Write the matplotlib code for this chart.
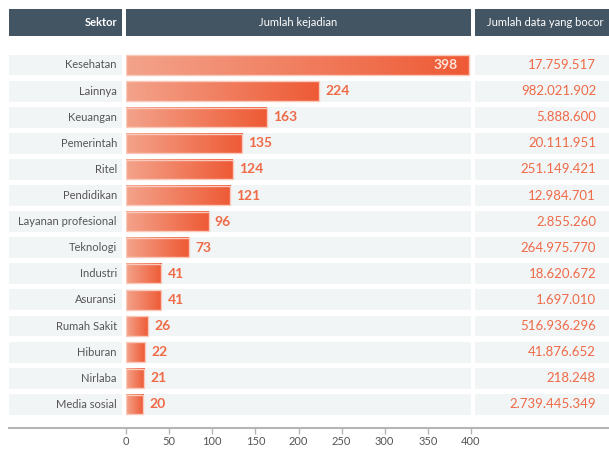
import numpy as np
import matplotlib
matplotlib.use("Agg")
import matplotlib.pyplot as plt
from matplotlib.colors import LinearSegmentedColormap
from matplotlib.patches import Rectangle
from matplotlib.lines import Line2D
import matplotlib.transforms as mtransforms

plt.rcParams['font.family'] = ['Lato', 'DejaVu Sans']

sectors = ["Kesehatan", "Lainnya", "Keuangan", "Pemerintah", "Ritel", "Pendidikan",
           "Layanan profesional", "Teknologi", "Industri", "Asuransi", "Rumah Sakit",
           "Hiburan", "Nirlaba", "Media sosial"]
incidents = [398, 224, 163, 135, 124, 121, 96, 73, 41, 41, 26, 22, 21, 20]
leaked = ["17.759.517", "982.021.902", "5.888.600", "20.111.951", "251.149.421",
          "12.984.701", "2.855.260", "264.975.770", "18.620.672", "1.697.010",
          "516.936.296", "41.876.652", "218.248", "2.739.445.349"]
headers = ["Sektor", "Jumlah kejadian", "Jumlah data yang bocor"]
xticks = [0, 50, 100, 150, 200, 250, 300, 350, 400]

W, H = 609, 449
fig = plt.figure(figsize=(W / 100, H / 100), dpi=100)
fig.patch.set_facecolor("white")

def fx(px):
    return px / W

def fy(py):
    return 1 - py / H

# main axes: x 0..400 maps px 126..471
ax_left, ax_right = 126, 471
ax_top, ax_bot = 36, 428
ax = fig.add_axes([fx(ax_left), fy(ax_bot), fx(ax_right - ax_left), (ax_bot - ax_top) / H])
ax.set_xlim(0, 400)
pitch = 26.1
y0 = 65
ax.set_ylim((ax_bot - y0) / pitch, (ax_top - y0) / pitch)
ax.set_facecolor("none")
for s in ax.spines.values():
    s.set_visible(False)
ax.set_yticks([])
ax.set_xticks(xticks)
ax.set_xticklabels([str(t) for t in xticks])
ax.tick_params(axis="x", length=4.5, width=1, color="#b5b5b5", labelsize=8,
               labelcolor="#555555", pad=1.5)

blend = mtransforms.blended_transform_factory(fig.transFigure, ax.transData)

header_col = "#435563"
row_bg = "#f2f5f6"
cells = [(9, 122), (126, 471), (475, 612)]

# header boxes
for (a, b), txt in zip(cells, headers):
    fig.patches.append(Rectangle((fx(a), fy(36)), fx(b - a), 27 / H,
                                 transform=fig.transFigure, facecolor=header_col,
                                 edgecolor="none", zorder=0))
fig.text(fx(117), fy(22.5), headers[0], ha="right", va="center", color="white",
         fontsize=8, fontweight="bold")
fig.text(fx(298.5), fy(22.5), headers[1], ha="center", va="center", color="white",
         fontsize=8)
fig.text(fx(487), fy(22.5), headers[2], ha="left", va="center", color="white",
         fontsize=8)

cmap = LinearSegmentedColormap.from_list("g", ["#f3a38b", "#ee5a35"])
grad = np.linspace(0, 1, 256).reshape(1, -1)
bh = 0.74
bgh = 0.80

for i, (name, v, lk) in enumerate(zip(sectors, incidents, leaked)):
    # row backgrounds
    for (a, b) in cells:
        ax.add_patch(Rectangle((fx(a), i - bgh / 2), fx(b - a), bgh, transform=blend,
                               facecolor=row_bg, edgecolor="none", zorder=0,
                               clip_on=False))
    # gradient bar
    ax.imshow(grad, cmap=cmap, extent=[0, v, i + bh / 2, i - bh / 2],
              aspect="auto", zorder=2, interpolation="nearest")
    ax.add_patch(Rectangle((0, i - bh / 2), v, bh, facecolor="none",
                           edgecolor="#f9c9bb", linewidth=1.0, zorder=3))
    # labels
    ax.text(fx(117), i, name, transform=blend, ha="right", va="center",
            fontsize=8, color="#555555")
    if v > 350:
        ax.text(v - 14, i, str(v), ha="right", va="center", fontsize=10,
                fontweight="bold", color="#fde3da", zorder=4)
    else:
        ax.text(v + 7, i, str(v), ha="left", va="center", fontsize=10,
                fontweight="bold", color="#ef6a47", zorder=4)
    ax.text(fx(596), i, lk, transform=blend, ha="right", va="center",
            fontsize=9.5, color="#ef6a47")

ax.set_xlim(0, 400)
ax.set_ylim((ax_bot - y0) / pitch, (ax_top - y0) / pitch)

# axis baseline across full width
fig.add_artist(Line2D([fx(9), fx(609)], [fy(428), fy(428)], transform=fig.transFigure,
                      color="#b5b5b5", linewidth=1.5))

fig.savefig("out.png", dpi=100)
